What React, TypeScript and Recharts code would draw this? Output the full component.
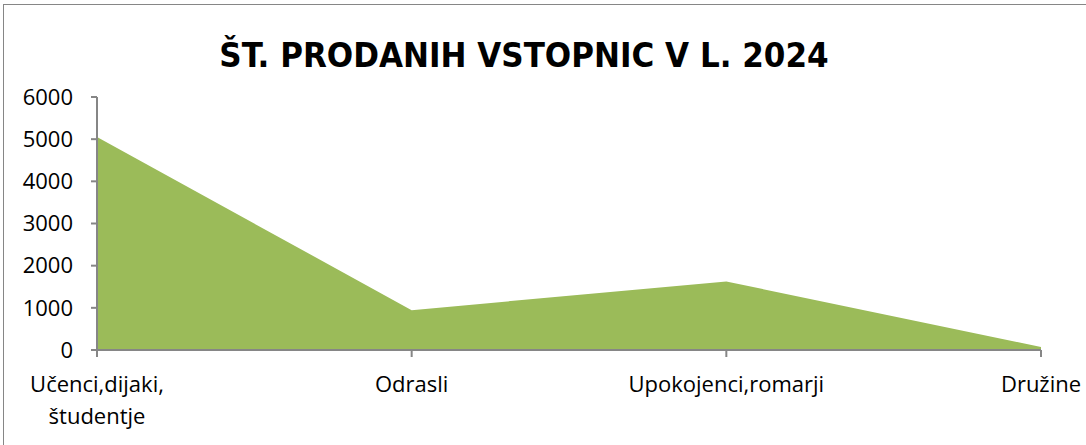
import { Area, AreaChart, XAxis, YAxis } from "recharts";

const categories = ["Učenci,dijaki, študentje", "Odrasli", "Upokojenci,romarji", "Družine"];
const tickets = [5050, 945, 1625, 70];
const yTicks = [0, 1000, 2000, 3000, 4000, 5000, 6000];

const chartData = categories.map((name, i) => ({ name, tickets: tickets[i] }));

const FONT = "'Open Sans', 'DejaVu Sans', sans-serif";

function CategoryTick(props: any) {
  const { x, y, payload } = props;
  const lines = String(payload.value).split(" ");
  return (
    <g transform={`translate(${x},${y})`}>
      {lines.map((line: string, i: number) => (
        <text
          key={i}
          x={0}
          y={33 + i * 32}
          textAnchor="middle"
          fill="#000000"
          fontSize={22}
          fontFamily={FONT}
        >
          {line}
        </text>
      ))}
    </g>
  );
}

export default function App() {
  return (
    <div style={{ position: "absolute", left: 0, top: 0, width: 1086, height: 445, background: "#ffffff", overflow: "hidden" }}>
      <div
        style={{
          position: "absolute",
          left: 3,
          top: 4,
          width: 1100,
          height: 460,
          border: "1px solid #868686",
          boxSizing: "border-box",
        }}
      />
      <div
        style={{
          position: "absolute",
          left: 0,
          top: 33,
          width: 1048,
          textAlign: "center",
          fontFamily: "'DejaVu Sans Condensed', sans-serif",
          fontWeight: 700,
          fontSize: 34.5,
          lineHeight: "44px",
          color: "#000000",
        }}
      >
        ŠT. PRODANIH VSTOPNIC V L. 2024
      </div>
      <AreaChart
        width={1086}
        height={445}
        data={chartData}
        margin={{ top: 97, right: 45, bottom: 0, left: 0 }}
        style={{ position: "absolute", left: 0, top: 0 }}
      >
        <XAxis
          dataKey="name"
          height={95}
          axisLine={{ stroke: "#868686", strokeWidth: 2 }}
          tickLine={{ stroke: "#868686", strokeWidth: 2 }}
          tickSize={7}
          tick={<CategoryTick />}
          interval={0}
        />
        <YAxis
          width={97}
          domain={[0, 6000]}
          ticks={yTicks}
          axisLine={{ stroke: "#868686", strokeWidth: 2 }}
          tickLine={{ stroke: "#868686", strokeWidth: 2 }}
          tickSize={6}
          tickMargin={18}
          tick={{ fill: "#000000", fontSize: 22, fontFamily: FONT }}
        />
        <Area
          type="linear"
          dataKey="tickets"
          fill="#9BBB59"
          fillOpacity={1}
          stroke="none"
          isAnimationActive={false}
        />
      </AreaChart>
    </div>
  );
}
